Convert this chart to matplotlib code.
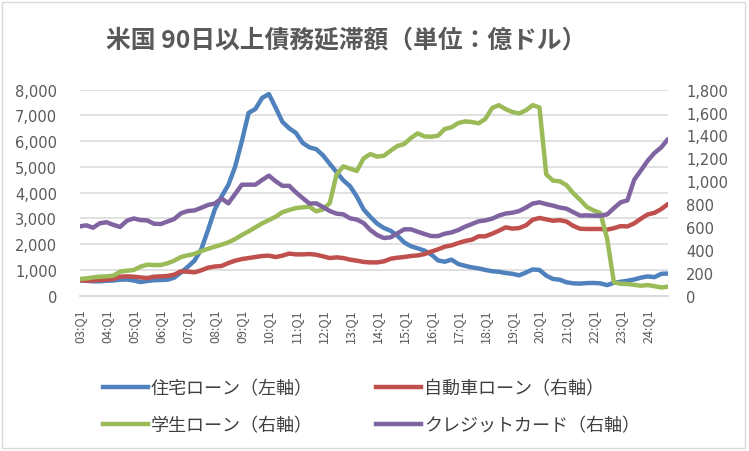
import numpy as np
import matplotlib
matplotlib.use("Agg")
import matplotlib.pyplot as plt
from matplotlib.lines import Line2D
from matplotlib.patches import Rectangle
from matplotlib.ticker import FuncFormatter

plt.rcParams["font.family"] = ["Noto Sans CJK JP", "DejaVu Sans"]

# quarterly series 2003Q1 - 2024Q4, 億ドル
tick_labels = ["03:Q1", "04:Q1", "05:Q1", "06:Q1", "07:Q1", "08:Q1", "09:Q1", "10:Q1",
               "11:Q1", "12:Q1", "13:Q1", "14:Q1", "15:Q1", "16:Q1", "17:Q1", "18:Q1",
               "19:Q1", "20:Q1", "21:Q1", "22:Q1", "23:Q1", "24:Q1"]
housing = [600, 580, 560, 560, 580, 590, 620, 630, 590, 530,
           570, 600, 610, 620, 700, 900, 1120, 1360, 1800, 2550,
           3350, 3850, 4300, 5000, 6000, 7100, 7250, 7680, 7830, 7300,
           6750, 6500, 6320, 5930, 5760, 5690, 5450, 5120, 4800, 4480,
           4250, 3850, 3350, 3060, 2800, 2630, 2520, 2330, 2070, 1920,
           1840, 1750, 1600, 1370, 1320, 1400, 1230, 1160, 1100, 1060,
           1000, 950, 930, 880, 850, 790, 900, 1020, 1000, 780,
           650, 620, 520, 480, 470, 490, 495, 480, 410, 500,
           540, 580, 630, 700, 750, 720, 850, 860]
auto = [137, 131, 134, 137, 140, 146, 166, 169, 166, 160,
        154, 166, 169, 172, 184, 213, 210, 204, 222, 245,
        255, 260, 285, 306, 320, 329, 338, 347, 350, 338,
        350, 368, 361, 361, 364, 358, 344, 329, 335, 329,
        315, 306, 295, 291, 291, 300, 323, 332, 338, 347,
        352, 364, 385, 405, 428, 440, 460, 478, 489, 519,
        519, 542, 568, 597, 586, 591, 615, 664, 679, 667,
        655, 660, 648, 610, 585, 583, 583, 583, 577, 590,
        608, 605, 632, 673, 710, 724, 757, 801]
student = [146, 151, 160, 166, 169, 175, 210, 218, 224, 253,
           271, 268, 268, 283, 306, 338, 353, 365, 390, 410,
           428, 446, 466, 495, 530, 562, 597, 632, 661, 690,
           730, 749, 766, 772, 778, 737, 754, 810, 1060, 1130,
           1110, 1090, 1200, 1238, 1215, 1223, 1267, 1308, 1325, 1378,
           1419, 1392, 1389, 1398, 1457, 1471, 1509, 1523, 1518, 1506,
           1545, 1640, 1665, 1630, 1605, 1592, 1620, 1665, 1645, 1060,
           1005, 1000, 965, 895, 838, 776, 745, 722, 500, 117,
           104, 102, 95, 87, 93, 83, 72, 79]
card = [605, 615, 594, 633, 642, 619, 601, 655, 675, 661,
        658, 629, 626, 648, 670, 720, 740, 745, 768, 793,
        805, 850, 807, 888, 970, 970, 970, 1011, 1049, 1000,
        960, 960, 903, 852, 805, 807, 775, 740, 717, 711,
        676, 665, 635, 574, 530, 504, 510, 545, 580, 580,
        559, 539, 521, 521, 542, 553, 574, 603, 626, 650,
        658, 673, 700, 718, 725, 740, 770, 805, 816, 800,
        787, 770, 760, 730, 700, 702, 699, 699, 710, 765,
        816, 833, 1012, 1095, 1180, 1247, 1296, 1369]
names = ["住宅ローン（左軸）", "自動車ローン（右軸）", "学生ローン（右軸）", "クレジットカード（右軸）"]
colors = ["#4F81BD", "#C0504D", "#9BBB59", "#8064A2"]

W, H = 749, 452
fig = plt.figure(figsize=(W / 100, H / 100), dpi=100)
ax = fig.add_axes([79.5 / W, 1 - 296.7 / H, (668 - 79.5) / W, 206 / H])
ax2 = ax.twinx()
x = np.arange(len(housing))
lw = 3.2
ax.plot(x, housing, color=colors[0], lw=lw, solid_capstyle="round", solid_joinstyle="round")
ax2.plot(x, auto, color=colors[1], lw=lw, solid_capstyle="round", solid_joinstyle="round")
ax2.plot(x, student, color=colors[2], lw=lw, solid_capstyle="round", solid_joinstyle="round")
ax2.plot(x, card, color=colors[3], lw=lw, solid_capstyle="round", solid_joinstyle="round")

grey = "#595959"
ax.set_xlim(0, len(housing) - 1)
ax.set_ylim(0, 8000)
ax.set_yticks(np.arange(0, 8001, 1000))
ax2.set_ylim(0, 1800)
ax2.set_yticks(np.arange(0, 1801, 200))
fmt = FuncFormatter(lambda v, p: f"{int(v):,}")
ax.yaxis.set_major_formatter(fmt)
ax2.yaxis.set_major_formatter(fmt)
ax.set_xticks(np.arange(0, len(housing), 4))
ax.set_xticklabels(tick_labels, rotation=90, fontsize=9, color=grey)
ax.tick_params(axis="x", length=0, pad=9)
ax.tick_params(axis="y", length=0, pad=16, labelcolor=grey)
ax2.tick_params(axis="y", length=0, pad=13, labelcolor=grey)
for lab in ax.get_yticklabels() + ax2.get_yticklabels():
    lab.set_fontfamily("DejaVu Sans")
    lab.set_fontsize(10.5)
ax.grid(axis="y", color="#D9D9D9", lw=1.1)
ax.set_axisbelow(True)
for a in (ax, ax2):
    for s in ("left", "right", "top"):
        a.spines[s].set_visible(False)
    a.spines["bottom"].set_color("#D9D9D9")
    a.spines["bottom"].set_linewidth(1.1)
ax.patch.set_visible(False)

fig.text(346 / W, 1 - 40 / H, "米国 90日以上債務延滞額（単位：億ドル）", ha="center", va="center",
         fontsize=17.8, fontweight="bold", color=grey)

order = [0, 2, 1, 3]
handles = [Line2D([], [], color=colors[k], lw=lw) for k in order]
fig.legend(handles, [names[k] for k in order], ncol=2, loc="upper left",
           bbox_to_anchor=(103 / W, 1 - 380 / H), frameon=False, fontsize=13,
           handlelength=2.5, handletextpad=0.15, columnspacing=3.5,
           labelspacing=1.05, borderpad=0, borderaxespad=0, labelcolor="#404040")

fig.patches.append(Rectangle((2 / W, 3 / H), 743 / W, 446 / H, transform=fig.transFigure,
                             fill=False, ec="#D9D9D9", lw=1))
fig.savefig("out.png", dpi=100)
